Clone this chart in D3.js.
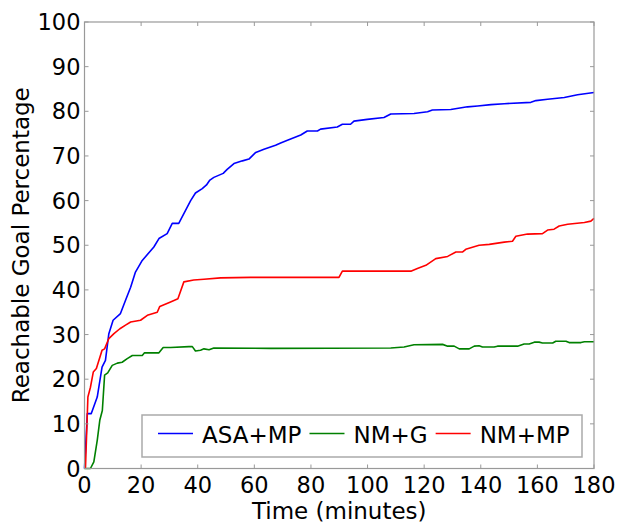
<!DOCTYPE html>
<html>
<head>
<meta charset="utf-8">
<script src="https://cdn.jsdelivr.net/npm/d3@7"></script>
<style>
  body { margin: 0; background: #fff; }
  svg text { font-family: "DejaVu Sans", sans-serif; fill: #000; }
</style>
</head>
<body>
<svg id="chart" width="617" height="525"></svg>
<script>
"use strict";

// Data (minutes, percent)

var seriesNames = ["ASA+MP", "NM+G", "NM+MP"],
    seriesColors = ["#0000ff", "#008000", "#ff0000"];

var asaTime = [0, 1, 2.4, 4.5, 6.2, 7.4, 8.6, 10.1, 12.7, 14.5, 16.3, 18, 20.4, 24.5, 26.3, 29.2, 31, 33.3, 35.7, 37.5, 39.2, 41.6, 43.1, 44.3, 45.7, 49, 50.4, 52.8, 55.8, 58.1, 60.5, 63.4, 67.5, 69.3, 71.7, 76.4, 78.7, 82.3, 83.4, 89.3, 91.1, 94, 95.2, 99.9, 105.8, 108.2, 116.4, 121.2, 122.9, 129.4, 135.3, 138.9, 143.6, 148.3, 157.7, 159.5, 163.6, 169.5, 174.2, 180];
var asaValue = [0, 12.3, 12.3, 16, 22.7, 24.2, 30.2, 33.2, 34.7, 37.7, 40.6, 44, 46.6, 49.6, 51.5, 52.6, 54.9, 54.9, 57.8, 60, 61.7, 62.7, 63.5, 64.6, 65.2, 66.1, 67, 68.3, 68.9, 69.3, 70.8, 71.5, 72.4, 72.9, 73.5, 74.7, 75.6, 75.6, 76, 76.5, 77.1, 77.1, 77.8, 78.2, 78.6, 79.4, 79.5, 79.9, 80.3, 80.4, 81, 81.2, 81.5, 81.7, 82, 82.4, 82.7, 83.1, 83.7, 84.2];

var nmgTime = [0, 2.1, 3.3, 4.5, 5.4, 6.3, 7.1, 8.2, 9.8, 11.6, 13.3, 15.1, 16.9, 20.4, 21.2, 26.3, 27.8, 30.4, 36.9, 38.1, 39.2, 41, 42.2, 44, 45.7, 65.8, 108.2, 112.9, 116.4, 126.5, 128.3, 130.6, 132.4, 135.9, 137.7, 139.4, 140.6, 144.7, 145.9, 153, 155.3, 157.1, 158.9, 160.6, 161.8, 165.4, 166.5, 170.1, 171.2, 175.4, 176.6, 180];
var nmgValue = [0, 0, 1.5, 6.3, 10.8, 13, 20.9, 21.4, 23.1, 23.6, 23.8, 24.6, 25.3, 25.3, 25.9, 25.9, 27.1, 27.1, 27.3, 27.3, 26.3, 26.5, 26.8, 26.6, 27, 26.9, 27, 27.2, 27.7, 27.8, 27.4, 27.4, 26.8, 26.8, 27.4, 27.5, 27.2, 27.2, 27.4, 27.4, 27.9, 27.9, 28.3, 28.3, 28.1, 28.1, 28.5, 28.5, 28.2, 28.2, 28.4, 28.4];

var nmmpTime = [0, 0.35, 1.2, 2.1, 3.1, 4.2, 6.2, 7.1, 8.6, 10.4, 12.5, 14.5, 16.3, 19.8, 22.2, 25.7, 26.6, 30.4, 33, 35.1, 38.6, 42.2, 48.1, 58.7, 89.9, 91.1, 115.3, 117.6, 120.6, 124.1, 128.3, 131.2, 133.6, 134.7, 139.4, 143, 148.3, 151.2, 152.4, 156.5, 161.8, 163.6, 165.9, 167.7, 170.7, 176.6, 178.9, 180];
var nmmpValue = [0, 0.3, 16, 18.2, 21.6, 22.4, 26.5, 26.8, 29.1, 30.2, 31.3, 32.1, 32.8, 33.2, 34.3, 35, 36.3, 37.3, 38, 41.8, 42.2, 42.4, 42.7, 42.8, 42.8, 44.2, 44.2, 44.8, 45.5, 47, 47.5, 48.5, 48.5, 49.1, 50, 50.2, 50.7, 50.9, 52, 52.5, 52.6, 53.4, 53.6, 54.3, 54.7, 55.1, 55.4, 56];

var xTicks = [0, 20, 40, 60, 80, 100, 120, 140, 160, 180],
    yTicks = [0, 10, 20, 30, 40, 50, 60, 70, 80, 90, 100];

function zipSeries(times, values) {
    return times.map(function (t, i) { return [t, values[i]]; });
}

var series = [
    zipSeries(asaTime, asaValue),
    zipSeries(nmgTime, nmgValue),
    zipSeries(nmmpTime, nmmpValue)
];

// Layout (window.top is read-only, so no bare "top" here)

var plotLeft = 84.5, plotTop = 22, plotRight = 594, plotBottom = 468.5,
    axisColor = "#999",
    tickLen = 4;

var svg = d3.select("#chart");

var x = d3.scaleLinear().domain([0, 180]).range([plotLeft, plotRight]),
    y = d3.scaleLinear().domain([0, 100]).range([plotBottom, plotTop]);

// Lines first so the frame sits on top, like matplotlib
var line = d3.line()
    .x(function (d) { return x(d[0]); })
    .y(function (d) { return y(d[1]); });

svg.append("g")
    .selectAll("path")
    .data(series)
    .enter().append("path")
    .attr("d", line)
    .attr("fill", "none")
    .attr("stroke", function (d, i) { return seriesColors[i]; })
    .attr("stroke-width", 1.6)
    .attr("stroke-linejoin", "round");

// Frame
svg.append("rect")
    .attr("x", plotLeft).attr("y", plotTop)
    .attr("width", plotRight - plotLeft).attr("height", plotBottom - plotTop)
    .attr("fill", "none")
    .attr("stroke", axisColor)
    .attr("stroke-width", 1.2);

// Ticks, inward on all four sides
var ticks = svg.append("g").attr("stroke", axisColor).attr("stroke-width", 1);
xTicks.forEach(function (t) {
    ticks.append("line").attr("x1", x(t)).attr("x2", x(t)).attr("y1", plotBottom).attr("y2", plotBottom - tickLen);
    ticks.append("line").attr("x1", x(t)).attr("x2", x(t)).attr("y1", plotTop).attr("y2", plotTop + tickLen);
});
yTicks.forEach(function (t) {
    ticks.append("line").attr("x1", plotLeft).attr("x2", plotLeft + tickLen).attr("y1", y(t)).attr("y2", y(t));
    ticks.append("line").attr("x1", plotRight).attr("x2", plotRight - tickLen).attr("y1", y(t)).attr("y2", y(t));
});

// Tick labels
svg.append("g").selectAll("text")
    .data(xTicks)
    .enter().append("text")
    .attr("x", function (d) { return x(d); })
    .attr("y", plotBottom + 24)
    .attr("text-anchor", "middle")
    .attr("font-size", 22.5)
    .text(function (d) { return d; });

svg.append("g").selectAll("text")
    .data(yTicks)
    .enter().append("text")
    .attr("x", plotLeft - 4)
    .attr("y", function (d) { return y(d); })
    .attr("dy", "0.36em")
    .attr("text-anchor", "end")
    .attr("font-size", 22.5)
    .text(function (d) { return d; });

// Axis titles
svg.append("text")
    .attr("x", (plotLeft + plotRight) / 2)
    .attr("y", 519)
    .attr("text-anchor", "middle")
    .attr("font-size", 23)
    .text("Time (minutes)");

svg.append("text")
    .attr("transform", "translate(28.5," + (plotTop + plotBottom) / 2 + ") rotate(-90)")
    .attr("text-anchor", "middle")
    .attr("font-size", 23)
    .text("Reachable Goal Percentage");

// Legend
var legend = svg.append("g");
legend.append("rect")
    .attr("x", 142).attr("y", 415)
    .attr("width", 440).attr("height", 42)
    .attr("fill", "#fff")
    .attr("stroke", "#aaa")
    .attr("stroke-width", 1.5);

var lx = 158;
seriesNames.forEach(function (name, i) {
    legend.append("line")
        .attr("x1", lx).attr("x2", lx + 35)
        .attr("y1", 433.5).attr("y2", 433.5)
        .attr("stroke", seriesColors[i])
        .attr("stroke-width", 1.6);
    var label = legend.append("text")
        .attr("x", lx + 44)
        .attr("y", 442.5)
        .attr("font-size", 23)
        .text(name);
    lx = lx + 44 + label.node().getComputedTextLength() + 8;
});
</script>
</body>
</html>
